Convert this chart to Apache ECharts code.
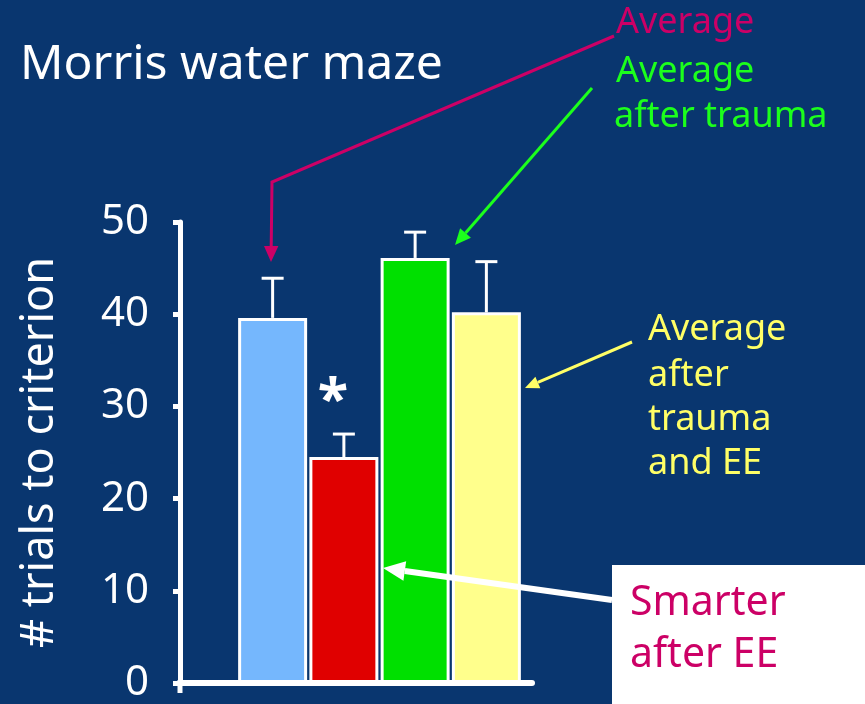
<!DOCTYPE html>
<html>
<head>
<meta charset="utf-8">
<script src="https://cdn.jsdelivr.net/npm/echarts@6/dist/echarts.min.js"></script>
<style>
  html, body { margin: 0; padding: 0; background: #09366f; }
  #chart { width: 865px; height: 704px; }
</style>
</head>
<body>
<div id="chart"></div>
<script>
// Morris water maze: trials needed to reach criterion per group
const groups = ['Average', 'Average + EE', 'After trauma', 'After trauma and EE'];
const means = [39.6, 24.5, 46.1, 40.2];
const errTops = [43.9, 27.0, 48.9, 45.7];
const barColors = ['#75b7fd', '#e00000', '#00e000', '#ffff8c'];
const yTicks = { min: 0, max: 50, step: 10 };

const FONT = '"Noto Sans", sans-serif';
const MAGENTA = '#cc0066';
const GREEN = '#1cff1c';
const YELLOW = '#ffff66';

function arrow(points, color, width, head) {
  const n = points.length;
  const [x1, y1] = points[n - 2];
  const [x2, y2] = points[n - 1];
  const ang = Math.atan2(y2 - y1, x2 - x1);
  const bx = x2 - Math.cos(ang) * head;
  const by = y2 - Math.sin(ang) * head;
  const px = -Math.sin(ang) * head * 0.45;
  const py = Math.cos(ang) * head * 0.45;
  const line = points.slice(0, n - 1).concat([[bx, by]]);
  return [
    { type: 'polyline', shape: { points: line }, style: { stroke: color, lineWidth: width, fill: null }, z: 10 },
    { type: 'polygon', shape: { points: [[x2, y2], [bx + px, by + py], [bx - px, by - py]] }, style: { fill: color }, z: 10 }
  ];
}

function text(str, x, y, size, color, extra) {
  return Object.assign({
    type: 'text', x: x, y: y, z: 11,
    style: { text: str, fill: color, font: size + 'px ' + FONT, textVerticalAlign: 'middle' }
  }, extra || {});
}

const chart = echarts.init(document.getElementById('chart'));

const option = {
  backgroundColor: '#09366f',
  animation: false,
  grid: [
    { left: 237, right: 343, top: 222, bottom: 21 },
    { left: 180, right: 333, top: 222, bottom: 21 }
  ],
  xAxis: [
    { type: 'category', gridIndex: 0, data: groups, axisLine: { show: false }, axisTick: { show: false }, axisLabel: { show: false } },
    { type: 'value', gridIndex: 1, min: 0, max: 1, axisLine: { lineStyle: { color: '#ffffff', width: 6 } },
      axisTick: { show: false }, axisLabel: { show: false }, splitLine: { show: false } }
  ],
  yAxis: [
    {
      type: 'value', gridIndex: 0, min: yTicks.min, max: yTicks.max, interval: yTicks.step, offset: 57,
      name: '# trials to criterion', nameLocation: 'middle', nameGap: 117, nameRotate: 90,
      nameTextStyle: { color: '#ffffff', fontSize: 45, fontFamily: FONT },
      axisLine: { show: true, lineStyle: { color: '#ffffff', width: 5 } },
      axisTick: { show: true, inside: false, length: 7, lineStyle: { color: '#ffffff', width: 5 } },
      axisLabel: { color: '#ffffff', fontSize: 42, fontFamily: FONT, margin: 31 },
      splitLine: { show: false }
    },
    { type: 'value', gridIndex: 1, min: yTicks.min, max: yTicks.max, show: false }
  ],
  series: [
    {
      type: 'bar', xAxisIndex: 0, yAxisIndex: 0, barWidth: 69, z: 3,
      data: means.map((v, i) => ({ value: v, itemStyle: { color: barColors[i] } })),
      itemStyle: { borderColor: '#ffffff', borderWidth: 3 }
    },
    {
      type: 'custom', xAxisIndex: 0, yAxisIndex: 0, z: 2,
      data: means.map((v, i) => [i, v, errTops[i]]),
      renderItem: function (params, api) {
        const base = api.coord([api.value(0), api.value(1)]);
        const top = api.coord([api.value(0), api.value(2)]);
        const half = 11;
        return {
          type: 'group',
          children: [
            { type: 'line', shape: { x1: base[0], y1: base[1], x2: top[0], y2: top[1] }, style: { stroke: '#ffffff', lineWidth: 3 } },
            { type: 'line', shape: { x1: top[0] - half, y1: top[1], x2: top[0] + half, y2: top[1] }, style: { stroke: '#ffffff', lineWidth: 3 } }
          ]
        };
      }
    }
  ],
  graphic: [
    // short stub of the value axis below the baseline
    { type: 'line', shape: { x1: 180, y1: 680, x2: 180, y2: 693 }, style: { stroke: '#ffffff', lineWidth: 5 }, z: 5 },
    text('Morris water maze', 20, 65, 48, '#ffffff'),
    text('Average', 616, 23, 36, MAGENTA),
    text('Average', 616, 72, 36, GREEN),
    text('after trauma', 614, 117, 36, GREEN),
    text('Average', 648, 330, 36, YELLOW),
    text('after', 648, 376, 36, YELLOW),
    text('trauma', 648, 420, 36, YELLOW),
    text('and EE', 648, 464, 36, YELLOW),
    { type: 'rect', shape: { x: 612, y: 565, width: 253, height: 139 }, style: { fill: '#ffffff' }, z: 9 },
    text('Smarter', 630, 603, 41, MAGENTA),
    text('after EE', 630, 655, 41, MAGENTA),
    text('*', 333, 402, 56, '#ffffff', { style: { text: '*', fill: '#ffffff', font: 'bold 56px ' + FONT, textAlign: 'center', textVerticalAlign: 'middle' } })
  ].concat(
    arrow([[614, 36], [272, 182], [271, 262]], MAGENTA, 3, 16),
    arrow([[592, 88], [455, 245]], GREEN, 3, 16),
    arrow([[632, 342], [525, 388]], YELLOW, 3, 14),
    arrow([[612, 600], [383, 568]], '#ffffff', 6, 22)
  )
};

chart.setOption(option);
</script>
</body>
</html>
